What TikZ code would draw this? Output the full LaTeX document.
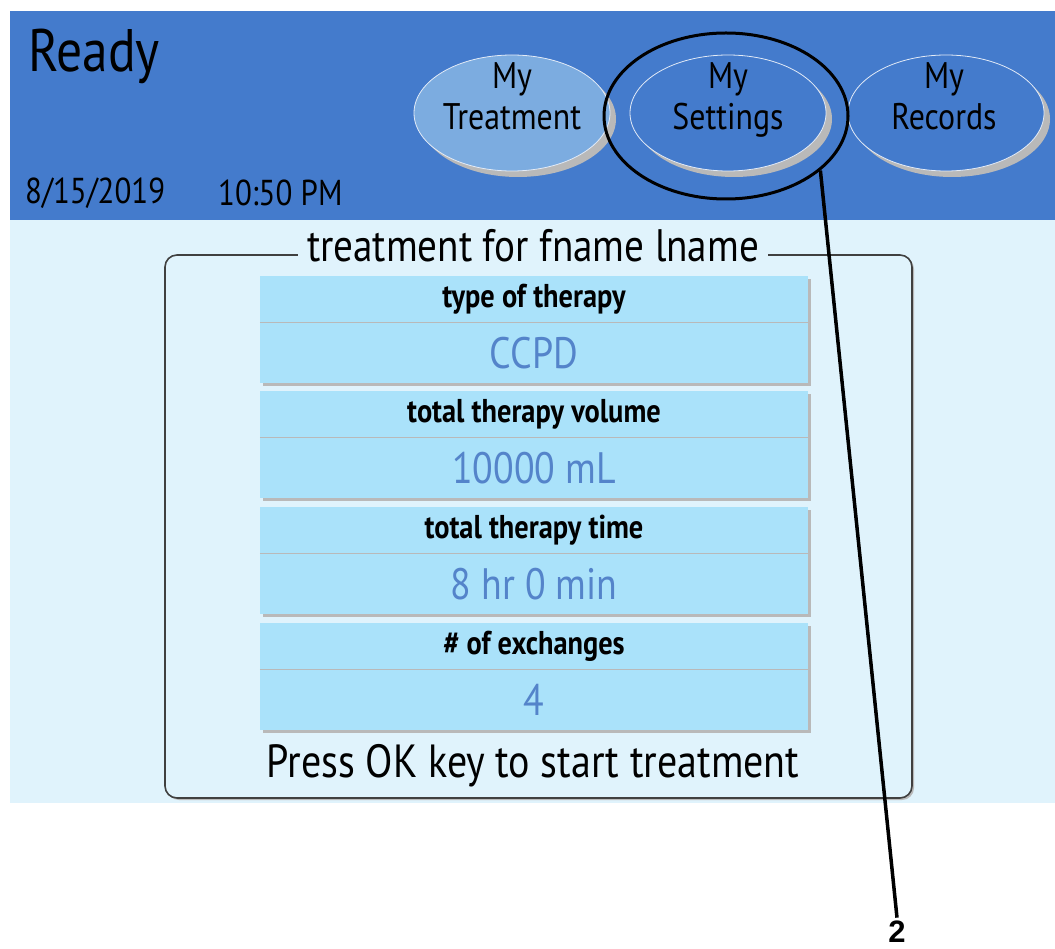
\documentclass[tikz,border=0pt]{standalone}
\usepackage{fontspec}
\setmainfont{PT Sans}[FakeStretch=0.86]
\newfontfamily\labelfont{Liberation Sans}
\usetikzlibrary{shapes.geometric,positioning,shadows}
\definecolor{headBlue}{RGB}{68,123,204}
\definecolor{tabLight}{RGB}{124,172,224}
\definecolor{paneBg}{RGB}{224,243,252}
\definecolor{cellBlue}{RGB}{170,226,250}
\definecolor{valBlue}{RGB}{84,132,202}
\definecolor{shadeGray}{RGB}{185,185,185}
\newcommand{\fsz}[1]{\fontsize{#1}{#1}\selectfont}
\tikzset{
  tab/.style={ellipse, draw=white!85!headBlue, line width=0.8pt, fill=headBlue,
    minimum width=196pt, minimum height=116pt,
    drop shadow={shadow xshift=6pt, shadow yshift=-6pt, fill=shadeGray, opacity=1}},
  tabtext/.style={align=center, anchor=north, inner sep=0pt, font=\fontsize{37}{41}\selectfont},
  cellhead/.style={rectangle, fill=cellBlue, minimum width=548pt, minimum height=46pt,
    inner sep=0pt, font=\bfseries\fsz{33}},
  cellval/.style={rectangle, fill=cellBlue, minimum width=548pt, minimum height=61pt,
    inner sep=0pt, font=\fsz{44}, text=valBlue},
  cellshade/.style={drop shadow={shadow xshift=3pt, shadow yshift=-3pt, fill=shadeGray, opacity=1}}
}
\begin{document}
\begin{tikzpicture}[x=1pt, y=-1pt]
\useasboundingbox (0,0) rectangle (1055,949);
% screen background
\fill[white] (0,0) rectangle (1055,949);
\fill[headBlue] (10,11) rectangle (1055,220);
\fill[paneBg] (10,220) rectangle (1055,803);

% header texts
\node[anchor=west, inner sep=0pt, font=\fsz{60}] (ready) at (28,56) {Ready};
\node[anchor=west, inner sep=0pt, font=\fsz{36}] (date) at (25,193) {8/15/2019};
\node[anchor=west, inner sep=0pt, font=\fsz{36}] (clock) at (218,193) {10:50 PM};

% tabs
\node[tab, fill=tabLight] (treat) at (512,113) {};
\node[tab] (settings) at (728,113) {};
\node[tab] (records) at (946,113) {};
\node[tabtext] (treatT) at (512,62) {My\\Treatment};
\node[tabtext] (settingsT) at (728,62) {My\\Settings};
\node[tabtext] (recordsT) at (944,62) {My\\Records};

% frame with title
\draw[draw=black!75, line width=1.6pt, rounded corners=12pt, fill=paneBg,
  drop shadow={shadow xshift=2pt, shadow yshift=-2pt, fill=shadeGray, opacity=1}]
  (165,255) rectangle (912,798);
\node[fill=paneBg, inner xsep=9pt, inner ysep=0pt, font=\fsz{45.5}] (title) at (533,246)
  {treatment for fname lname};

% cells
\node[cellhead, cellshade] (typeH) at (534,299) {type of therapy};
\node[cellval, cellshade, below=0pt of typeH] (typeV) {CCPD};
\node[cellhead, cellshade] (volH) at (534,414) {total therapy volume};
\node[cellval, cellshade, below=0pt of volH] (volV) {10000 mL};
\node[cellhead, cellshade] (timeH) at (534,530) {total therapy time};
\node[cellval, cellshade, below=0pt of timeH] (timeV) {8 hr 0 min};
\node[cellhead, cellshade] (exchH) at (534,646) {\# of exchanges};
\node[cellval, cellshade, below=0pt of exchH] (exchV) {4};
\foreach \c in {typeH,volH,timeH,exchH}
  \draw[shadeGray, line width=1.2pt] (\c.south west) -- (\c.south east);

\node[font=\fsz{46.5}] (press) at (533,766) {Press OK key to start treatment};

% callout
\node[ellipse, draw, line width=3pt, minimum width=244pt, minimum height=166pt] (mark) at (726,116) {};
\node[font=\labelfont\bfseries\fsz{31}] (two) at (897,932) {2};
\draw[line width=3.5pt] (mark.-30) -- (two.north);
\end{tikzpicture}
\end{document}
